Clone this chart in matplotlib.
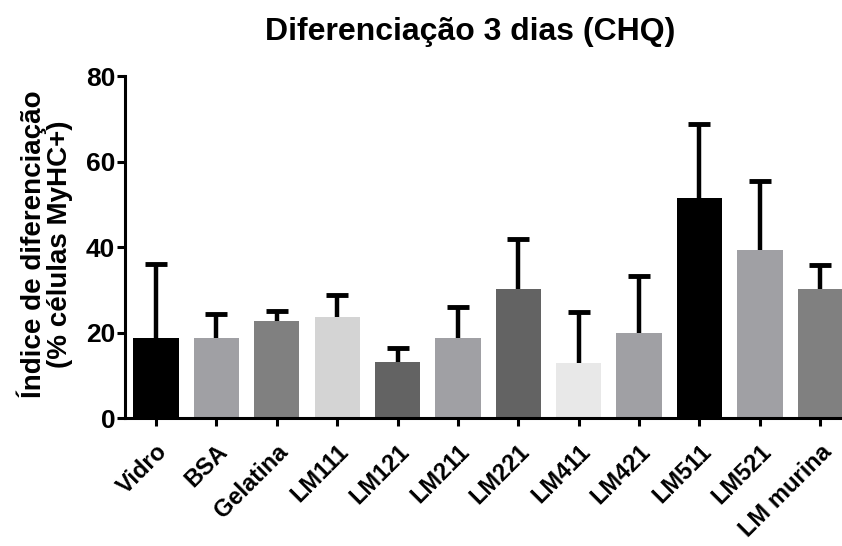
import matplotlib.pyplot as plt
import numpy as np

plt.rcParams["font.family"] = ["Liberation Sans", "DejaVu Sans"]
plt.rcParams["font.weight"] = "bold"

categories = ["Vidro", "BSA", "Gelatina", "LM111", "LM121", "LM211",
              "LM221", "LM411", "LM421", "LM511", "LM521", "LM murina"]
means = [18.7, 18.7, 22.7, 23.6, 13.1, 18.7, 30.2, 12.9, 19.9, 51.5, 39.3, 30.2]
upper = [36.0, 24.3, 25.0, 28.8, 16.4, 26.0, 41.9, 24.8, 33.2, 68.8, 55.4, 35.8]
colors = ["#000000", "#a0a0a4", "#808080", "#d4d4d4", "#636363", "#a0a0a4",
          "#636363", "#e8e8e8", "#a0a0a4", "#000000", "#a0a0a4", "#808080"]

errors = np.array(upper) - np.array(means)
x = np.arange(len(categories))

fig = plt.figure(figsize=(8.42, 5.46), dpi=100)
ax = fig.add_axes([0.1485, 0.2344, 0.8515, 0.6264])

ax.bar(x, means, width=0.75, color=colors, zorder=2)
_, caps, _ = ax.errorbar(x, means, yerr=[np.zeros_like(errors), errors],
                         fmt="none", ecolor="black", elinewidth=3.2, capsize=8,
                         capthick=3.5, zorder=3)
caps[0].set_visible(False)  # no cap on the lower end

ax.set_xlim(-0.513, 11.36)
ax.set_ylim(0, 80)
ax.set_yticks([0, 20, 40, 60, 80])
ax.set_xticks(x)
ax.set_xticklabels(categories, rotation=45, ha="right", rotation_mode="anchor",
                   fontsize=17, fontweight="bold")
for lab in ax.get_yticklabels():
    lab.set_fontsize(19)
    lab.set_fontweight("bold")

for side in ["top", "right"]:
    ax.spines[side].set_visible(False)
for side in ["left", "bottom"]:
    ax.spines[side].set_linewidth(2.2)
ax.tick_params(axis="both", width=2.2, length=6)
ax.tick_params(axis="y", pad=1)
ax.tick_params(axis="x", pad=10)

fig.text(0.053, 0.552, "Índice de diferenciação\n(% células MyHC+)",
         rotation=90, ha="center", va="center", fontsize=20,
         fontweight="bold", linespacing=1.0)
fig.text(0.558, 0.942, "Diferenciação 3 dias (CHQ)", ha="center", va="center",
         fontsize=23, fontweight="bold")

fig.savefig("out.png", dpi=100)
